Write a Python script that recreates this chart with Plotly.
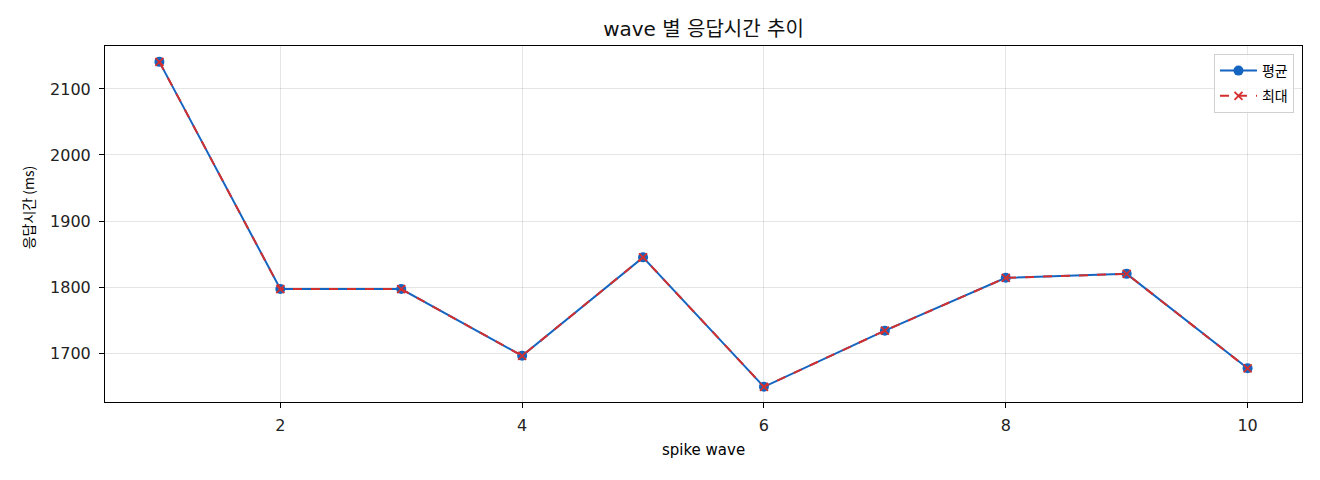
import plotly.graph_objects as go

waves = [1, 2, 3, 4, 5, 6, 7, 8, 9, 10]
avg_ms = [2141, 1797, 1797, 1696, 1845, 1649, 1734, 1814, 1820, 1677]
max_ms = [2141, 1797, 1797, 1696, 1845, 1649, 1734, 1814, 1820, 1677]
x_ticks = [2, 4, 6, 8, 10]
y_ticks = [1700, 1800, 1900, 2000, 2100]

BLUE = "#1565C0"
RED = "#D32F2F"
FONT = "DejaVu Sans, Noto Sans CJK KR"
KFONT = "Noto Sans CJK KR"

fig = go.Figure()
fig.add_trace(go.Scatter(
    x=waves, y=avg_ms, name="평균", mode="lines+markers", legendgroup="a",
    line=dict(color=BLUE, width=2),
    marker=dict(symbol="circle", size=10, color=BLUE),
))
fig.add_trace(go.Scatter(
    x=waves, y=max_ms, name="최대", mode="lines+markers", legendgroup="b",
    line=dict(color=RED, width=2, dash="dash"),
    marker=dict(symbol="x-thin", size=8, color=RED, line=dict(color=RED, width=1.8)),
))

axis_common = dict(
    showline=True, linecolor="black", linewidth=1, mirror=True,
    ticks="outside", ticklen=5, tickcolor="black",
    showgrid=True, gridcolor="rgba(0,0,0,0.1)", gridwidth=1,
    zeroline=False, tickfont=dict(size=16, color="#222", family=FONT),
)

fig.update_layout(
    width=1320, height=480,
    margin=dict(l=97, r=26, t=38, b=86),
    paper_bgcolor="white", plot_bgcolor="white",
    font=dict(family=FONT, color="black", size=14),
    title=dict(text="wave 별 응답시간 추이", xref="paper", x=0.5, xanchor="center",
               y=0.956, yanchor="middle",
               font=dict(size=20, family=FONT, color="#111")),
    xaxis=dict(range=[0.55, 10.45], tickvals=x_ticks, ticklabelstandoff=4,
               title=dict(text="spike wave", font=dict(size=15, family=FONT), standoff=10), **axis_common),
    yaxis=dict(range=[1626, 2165], tickvals=y_ticks, ticklabelstandoff=5, **axis_common),
    legend=dict(x=0.9933, y=0.9775, xanchor="right", yanchor="top",
                bgcolor="rgba(255,255,255,0.8)", bordercolor="#d0d0d0", borderwidth=1,
                font=dict(size=14, family=KFONT), itemwidth=37, tracegroupgap=4),
    showlegend=True,
    annotations=[dict(text="응답시간 (ms)", textangle=-90, xref="paper", yref="paper",
                      x=-0.064, y=0.548, xanchor="center", yanchor="middle", showarrow=False,
                      font=dict(size=14, family=KFONT, color="black"))],
)

fig.write_html("out.html")
